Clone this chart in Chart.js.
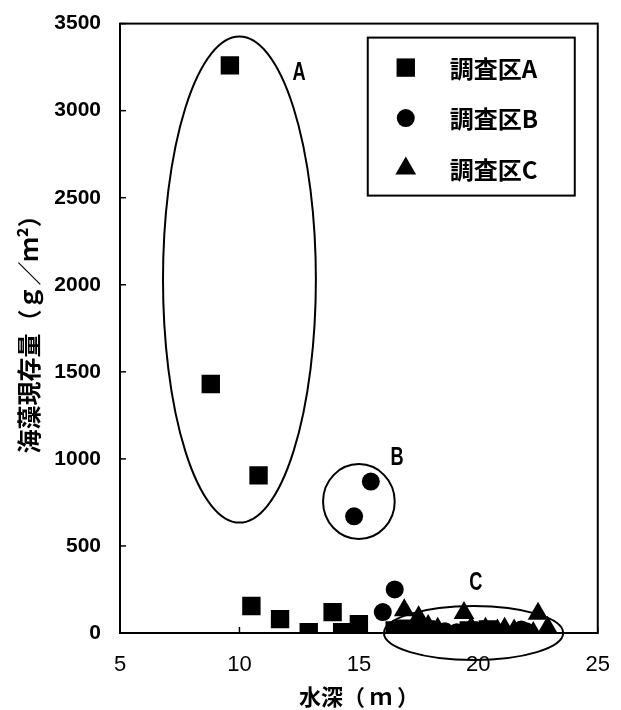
<!DOCTYPE html>
<html>
<head>
<meta charset="utf-8">
<script src="https://cdn.jsdelivr.net/npm/chart.js@4.4.0/dist/chart.umd.min.js"></script>
<style>
  html, body { margin: 0; padding: 0; background: #fff; }
</style>
</head>
<body>
<canvas id="chart" width="621" height="710"></canvas>
<script>
const seriesNames = ['調査区A', '調査区B', '調査区C'];

// 調査区A (squares)
const depthA   = [9.6, 8.8, 10.8, 10.5, 11.7, 12.9, 13.9, 14.3, 15.0, 16.5, 16.9, 17.3, 17.8, 18.2, 19.6, 20.0, 20.4];
const biomassA = [3260, 1430, 905, 155, 80, 5, 120, 5, 50, 15, 25, 10, 20, 5, 15, 10, 20];

// 調査区B (circles)
const depthB   = [15.5, 14.8, 16.5, 16.0, 17.1, 17.9, 18.6, 19.1, 19.6, 20.2, 21.8, 22.0];
const biomassB = [870, 670, 250, 120, 20, 10, 10, 5, 15, 20, 20, 10];

// 調査区C (triangles)
const depthC   = [16.9, 17.5, 17.9, 18.3, 19.4, 19.7, 20.3, 20.8, 21.1, 21.5, 22.3, 22.5, 22.9];
const biomassC = [130, 90, 40, 25, 115, 30, 25, 15, 25, 15, 0, 110, 30];

const xTicks = [5, 10, 15, 20, 25];
const yTicks = [0, 500, 1000, 1500, 2000, 2500, 3000, 3500];

// group ellipses (data units) and their labels
const groupNames  = ['A', 'B', 'C'];
const groupX      = [10.0, 15.0, 19.8];
const groupY      = [2030, 755, 0];
const groupRadX   = [3.2, 1.5, 3.75];
const groupRadY   = [1396, 215, 155];
const groupLabelX = [12.5, 16.6, 19.9];
const groupLabelY = [3215, 1005, 286];

const toPoints = (xs, ys) => xs.map((x, i) => ({ x: x, y: ys[i] }));

// box, inside ticks, ellipses, legend
const decorations = {
  id: 'decorations',
  afterDatasetsDraw(chart) {
    const { ctx, chartArea: area, scales: { x, y } } = chart;
    ctx.save();
    ctx.strokeStyle = '#000';
    ctx.fillStyle = '#000';

    // ellipses
    ctx.lineWidth = 2;
    groupNames.forEach((name, i) => {
      const cx = x.getPixelForValue(groupX[i]);
      const cy = y.getPixelForValue(groupY[i]);
      const rx = x.getPixelForValue(groupX[i] + groupRadX[i]) - cx;
      const ry = cy - y.getPixelForValue(groupY[i] + groupRadY[i]);
      ctx.beginPath();
      ctx.ellipse(cx, cy, rx, ry, 0, 0, Math.PI * 2);
      ctx.stroke();

      // narrow letter label
      ctx.save();
      ctx.translate(x.getPixelForValue(groupLabelX[i]), y.getPixelForValue(groupLabelY[i]));
      ctx.scale(0.7, 1);
      ctx.font = 'bold 26px "Liberation Sans", Arial, sans-serif';
      ctx.textAlign = 'center';
      ctx.textBaseline = 'middle';
      ctx.fillText(name, 0, 0);
      ctx.restore();
    });

    // frame
    ctx.lineWidth = 2;
    ctx.strokeRect(area.left, area.top, area.right - area.left, area.bottom - area.top);

    // inside ticks
    ctx.lineWidth = 1.5;
    yTicks.forEach(v => {
      const py = y.getPixelForValue(v);
      ctx.beginPath();
      ctx.moveTo(area.left, py);
      ctx.lineTo(area.left + 6, py);
      ctx.stroke();
    });
    xTicks.forEach(v => {
      const px = x.getPixelForValue(v);
      ctx.beginPath();
      ctx.moveTo(px, area.bottom);
      ctx.lineTo(px, area.bottom - 6);
      ctx.stroke();
    });

    // legend
    const boxW = 207, boxH = 158;
    const bx = area.right - 23 - boxW;
    const by = area.top + 14;
    ctx.fillStyle = '#fff';
    ctx.fillRect(bx, by, boxW, boxH);
    ctx.lineWidth = 2;
    ctx.strokeRect(bx, by, boxW, boxH);
    chart.data.datasets.forEach((ds, i) => {
      const ly = by + 30 + i * 50.5;
      ctx.fillStyle = '#000';
      Chart.helpers.drawPoint(ctx, {
        pointStyle: ds.pointStyle,
        radius: ds.pointRadius,
        borderWidth: 0
      }, bx + 38, ly);
      ctx.font = 'bold 24px "Noto Sans CJK JP", sans-serif';
      ctx.textAlign = 'left';
      ctx.textBaseline = 'middle';
      ctx.fillText(ds.label, bx + 82, ly + 1);
    });
    ctx.restore();
  }
};

new Chart(document.getElementById('chart'), {
  type: 'scatter',
  data: {
    datasets: [
      { label: seriesNames[0], data: toPoints(depthA, biomassA), pointStyle: 'rect', pointRadius: 13 },
      { label: seriesNames[1], data: toPoints(depthB, biomassB), pointStyle: 'circle', pointRadius: 9 },
      { label: seriesNames[2], data: toPoints(depthC, biomassC), pointStyle: 'triangle', pointRadius: 12 }
    ].map(ds => Object.assign(ds, {
      backgroundColor: '#000',
      borderColor: '#000',
      borderWidth: 0,
      pointHoverRadius: ds.pointRadius
    }))
  },
  options: {
    responsive: false,
    animation: false,
    layout: { padding: { top: 20, right: 16, left: 0, bottom: 0 } },
    plugins: {
      legend: { display: false },
      tooltip: { enabled: false }
    },
    scales: {
      x: {
        type: 'linear',
        min: 5,
        max: 25,
        afterBuildTicks: s => { s.ticks = xTicks.map(v => ({ value: v })); },
        afterFit: s => { s.height = 77; },
        grid: { display: false },
        border: { display: false },
        ticks: {
          color: '#000',
          padding: 11,
          callback: v => String(v),
          font: { family: '"Liberation Sans", Arial, sans-serif', size: 22 }
        },
        title: {
          display: true,
          text: '水深（ ｍ ）',
          color: '#000',
          padding: { top: 7, bottom: 0 },
          font: { family: '"Noto Sans CJK JP", sans-serif', size: 22, weight: 'bold' }
        }
      },
      y: {
        type: 'linear',
        min: 0,
        max: 3500,
        afterBuildTicks: s => { s.ticks = yTicks.map(v => ({ value: v })); },
        afterFit: s => { s.width = 120; },
        grid: { display: false },
        border: { display: false },
        ticks: {
          color: '#000',
          padding: 11,
          callback: v => String(v),
          font: { family: '"Liberation Sans", Arial, sans-serif', size: 21, weight: 'bold' }
        },
        title: {
          display: true,
          text: '海藻現存量（ｇ／ｍ²）',
          color: '#000',
          padding: { top: 14, bottom: 0 },
          font: { family: '"Noto Sans CJK JP", sans-serif', size: 24, weight: 'bold' }
        }
      }
    }
  },
  plugins: [decorations]
});
</script>
</body>
</html>
